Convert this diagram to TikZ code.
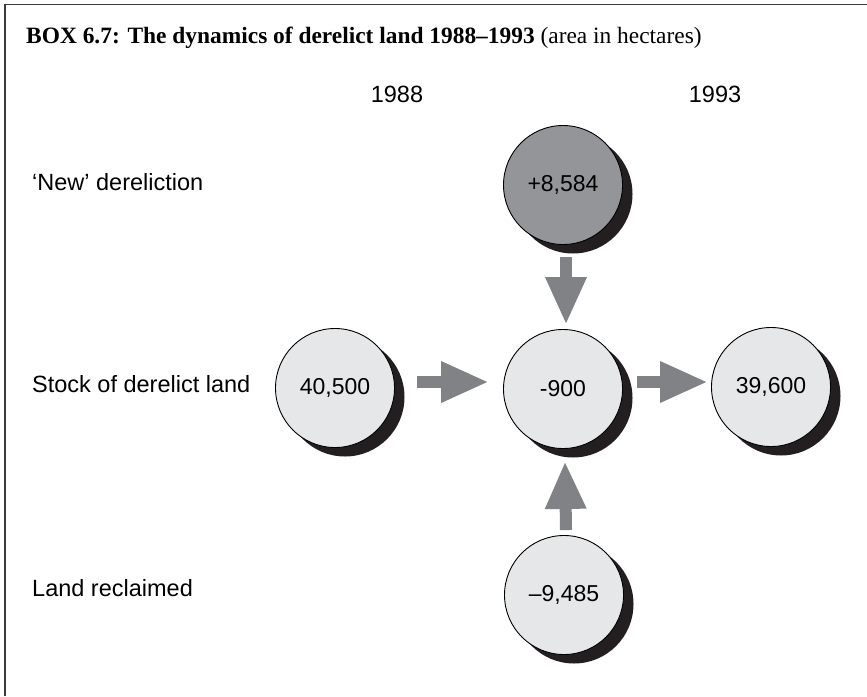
\documentclass[tikz,border=0pt]{standalone}
\usepackage{fontspec}
\setmainfont{Liberation Serif}
\newfontfamily\labelfont{Liberation Sans}
\usetikzlibrary{arrows.meta,calc,backgrounds}

\definecolor{discgray}{HTML}{E6E7E8}
\definecolor{darkdisc}{HTML}{939598}
\definecolor{shadowblack}{HTML}{231F20}
\definecolor{arrowgray}{HTML}{808285}
\definecolor{framegray}{HTML}{3A3A3A}

\begin{document}
\begin{tikzpicture}[x=1pt,y=-1pt,
  disc/.style={circle, draw=black, line width=0.9pt, fill=discgray,
    minimum size=119pt, inner sep=0pt,
    font=\labelfont\fontsize{23}{26}\selectfont},
  newdisc/.style={disc, fill=darkdisc},
  rowlabel/.style={anchor=base west, inner sep=0pt,
    font=\labelfont\fontsize{23.5}{26}\selectfont},
  yearlabel/.style={anchor=base, inner sep=0pt,
    font=\labelfont\fontsize{23.5}{26}\selectfont},
  flow/.style={draw=arrowgray, line width=12pt,
    -{Triangle[length=48pt,width=38pt]}}
]
\useasboundingbox (0,0) rectangle (867,696);

% frame: top and left rules only
\draw[framegray, line width=1.6pt] (5,696) -- (5,4.5) -- (867,4.5);

% heading
\node[anchor=base west, inner sep=0pt] (title) at (26,43)
  {\fontsize{23.4}{26}\selectfont\bfseries BOX 6.7: The dynamics of derelict land 1988--1993 \mdseries(area in hectares)};

% column and row headings
\node[yearlabel] (y1988) at (397,102.5) {1988};
\node[yearlabel] (y1993) at (715,102.5) {1993};
\node[rowlabel] (lnew)   at (32,190.5) {‘New’ dereliction};
\node[rowlabel] (lstock) at (32,392.5) {Stock of derelict land};
\node[rowlabel] (lrecl)  at (32,596.5) {Land reclaimed};

% discs
\node[newdisc] (new)   at (563,185) {+8,584};
\node[disc]    (start) at (335,388) {40,500};
\node[disc]    (net)   at (563,389) {-900};
\node[disc]    (final) at (771,387) {39,600};
\node[disc]    (recl)  at (564,595) {–9,485};

% drop shadows behind the discs
\begin{scope}[on background layer]
  \foreach \n in {new,start,net,final,recl}
    \fill[shadowblack] ($(\n.center)+(10,9)$) circle (59.5pt);
\end{scope}

% flows
\draw[flow] ($(new.south)+(3,12)$) -- ($(net.north)+(3,-4)$);
\draw[flow] ($(recl.north)+(2,-5)$) -- ($(net.south)+(2,12)$);
\draw[flow] ($(start.east)+(22,-6)$) -- ($(net.west)+(-14,-7)$);
\draw[flow] ($(net.east)+(14,-7)$) -- ($(final.west)+(-3,-5)$);
\end{tikzpicture}
\end{document}
